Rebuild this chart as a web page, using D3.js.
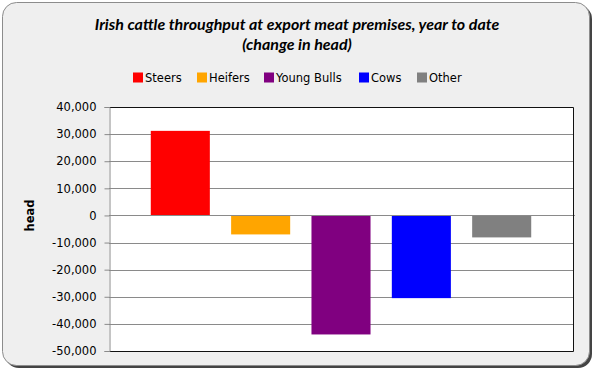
<!DOCTYPE html>
<html>
<head>
<meta charset="utf-8">
<script src="https://cdn.jsdelivr.net/npm/d3@7"></script>
<style>
  body { margin: 0; background: #fff; }
  svg { display: block; }
  text { font-family: "DejaVu Sans", Verdana, sans-serif; fill: #000; }
</style>
</head>
<body>
<svg id="chart" width="598" height="373"></svg>
<script>
// ======================
// DATA
// ======================
const categories = ["Steers", "Heifers", "Young Bulls", "Cows", "Other"];
const changeInHead = [31200, -7000, -43900, -30500, -8100];
const seriesColors = ["#ff0000", "#ffa500", "#800080", "#0000ff", "#808080"];
const yTicks = [40000, 30000, 20000, 10000, 0, -10000, -20000, -30000, -40000, -50000];
const titleLines = ["Irish cattle throughput at export meat premises, year to date", "(change in head)"];

// ======================
// LAYOUT
// ======================
const svg = d3.select("#chart");
const plot = { left: 109, right: 573, top: 107, bottom: 351 };

// frame with shadow
svg.append("rect")
  .attr("x", 5).attr("y", 5).attr("width", 587).attr("height", 363)
  .attr("rx", 14).attr("fill", "#444");
svg.append("rect")
  .attr("x", 2.5).attr("y", 2.5).attr("width", 587).attr("height", 363)
  .attr("rx", 14).attr("fill", "#efefef").attr("stroke", "#8c8c8c");

// title
svg.append("g").selectAll("text")
  .data(titleLines)
  .enter().append("text")
  .attr("x", 297).attr("y", (d, i) => 30 + i * 20)
  .attr("text-anchor", "middle")
  .style("font-family", "Lato, 'Open Sans', sans-serif")
  .style("font-style", "italic")
  .style("font-weight", "bold")
  .style("font-size", "16px")
  .text(d => d);

// legend
const legendX = [133, 197, 264, 359, 417];
const legend = svg.append("g").selectAll("g")
  .data(categories)
  .enter().append("g")
  .attr("transform", (d, i) => `translate(${legendX[i]},72.5)`);
legend.append("rect")
  .attr("width", 10).attr("height", 10)
  .attr("fill", (d, i) => seriesColors[i]);
legend.append("text")
  .attr("x", 12).attr("y", 9.5)
  .style("font-size", "11.5px")
  .text(d => d);

// scales
const y = d3.scaleLinear()
  .domain([-50000, 40000])
  .range([plot.bottom, plot.top]);

const x = d3.scaleBand()
  .domain(categories)
  .range([plot.left, plot.right])
  .paddingInner(0.265)
  .paddingOuter(0.52);

// plot area
svg.append("rect")
  .attr("x", plot.left).attr("y", plot.top)
  .attr("width", plot.right - plot.left).attr("height", plot.bottom - plot.top)
  .attr("fill", "#fff");

// gridlines
svg.append("g").selectAll("line")
  .data(yTicks)
  .enter().append("line")
  .attr("x1", plot.left).attr("x2", plot.right)
  .attr("y1", d => Math.round(y(d)) + 0.5).attr("y2", d => Math.round(y(d)) + 0.5)
  .attr("stroke", "#8a8a8a");

// bars
svg.append("g").selectAll("rect")
  .data(categories)
  .enter().append("rect")
  .attr("x", d => x(d))
  .attr("width", x.bandwidth())
  .attr("y", (d, i) => y(Math.max(0, changeInHead[i])))
  .attr("height", (d, i) => Math.abs(y(changeInHead[i]) - y(0)))
  .attr("fill", (d, i) => seriesColors[i]);

// zero line over bars
svg.append("line")
  .attr("x1", plot.left).attr("x2", plot.right + 2)
  .attr("y1", Math.round(y(0)) + 0.5).attr("y2", Math.round(y(0)) + 0.5)
  .attr("stroke", "#8a8a8a");

// plot border (top, right, bottom)
svg.append("path")
  .attr("d", `M${plot.left},${plot.top + 0.5}H${plot.right + 0.5}V${plot.bottom + 0.5}H${plot.left}`)
  .attr("fill", "none")
  .attr("stroke", "#111");

// y axis
const yAxis = svg.append("g")
  .attr("transform", `translate(${plot.left + 0.5},0)`)
  .call(d3.axisLeft(y).tickValues(yTicks).tickSize(5).tickPadding(8)
    .tickFormat(d => d3.format(",")(d).replace("−", "-")));
yAxis.select(".domain").attr("stroke", "#8a8a8a");
yAxis.selectAll(".tick line").attr("stroke", "#8a8a8a");
yAxis.selectAll("text")
  .style("font-family", "'DejaVu Sans', Verdana, sans-serif")
  .style("font-size", "11.5px")
  .attr("fill", "#000");

// axis title
svg.append("text")
  .attr("transform", `translate(34,${y(0)}) rotate(-90)`)
  .attr("text-anchor", "middle")
  .style("font-size", "11.5px")
  .style("font-weight", "bold")
  .text("head");
</script>
</body>
</html>
